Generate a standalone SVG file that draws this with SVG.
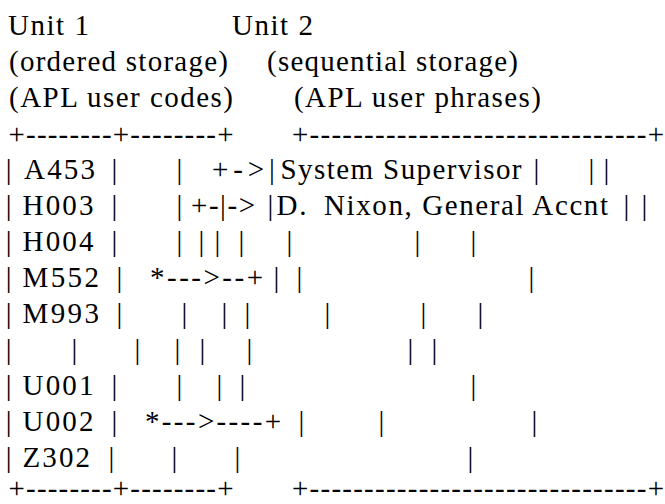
<svg xmlns="http://www.w3.org/2000/svg" width="665" height="504" viewBox="0 0 665 504">
<style>
text{font-family:'Liberation Serif','Times New Roman',serif;font-size:29px;fill:#000}
</style>
<rect width="665" height="504" fill="#fff"/>
<!-- column headings -->
<g id="headings">
<text x="8" y="35" textLength="81" lengthAdjust="spacing">Unit 1</text>
<text x="232" y="35" textLength="81" lengthAdjust="spacing">Unit 2</text>
<text x="9" y="71" textLength="219" lengthAdjust="spacing">(ordered storage)</text>
<text x="267" y="71" textLength="251" lengthAdjust="spacing">(sequential storage)</text>
<text x="9" y="107" textLength="224" lengthAdjust="spacing">(APL user codes)</text>
<text x="294" y="107" textLength="247" lengthAdjust="spacing">(APL user phrases)</text>
</g>
<!-- box borders: unit 1 (left) and unit 2 (right) -->
<g id="borders">
<text x="8.5" y="144" textLength="225" lengthAdjust="spacing">+--------+--------+</text>
<text x="292" y="144" textLength="372" lengthAdjust="spacing">+-------------------------------+</text>
<text x="8.5" y="497.5" textLength="225" lengthAdjust="spacing">+--------+--------+</text>
<text x="292" y="497.5" textLength="372" lengthAdjust="spacing">+-------------------------------+</text>
</g>
<!-- unit 1 codes and pointers into unit 2 -->
<g id="row-a453">
<text x="24" y="179" textLength="71" lengthAdjust="spacing">A453</text>
<text x="212" y="179" textLength="52" lengthAdjust="spacing">+-&gt;</text>
<text x="280.5" y="179" textLength="241" lengthAdjust="spacing">System Supervisor</text>
<text y="179"><tspan x="5.7">|</tspan> <tspan x="111.4">|</tspan> <tspan x="176.4">|</tspan> <tspan x="269">|</tspan> <tspan x="533.4">|</tspan> <tspan x="588.4">|</tspan> <tspan x="603.4">|</tspan></text>
</g>
<g id="row-h003">
<text x="22.5" y="215" textLength="71" lengthAdjust="spacing">H003</text>
<text x="191" y="215" textLength="64" lengthAdjust="spacing">+-|-&gt;</text>
<text x="276.5" y="215" textLength="30" lengthAdjust="spacing">D.</text>
<text x="324" y="215" textLength="284" lengthAdjust="spacing">Nixon, General Accnt</text>
<text y="215"><tspan x="5.7">|</tspan> <tspan x="111.4">|</tspan> <tspan x="176.4">|</tspan> <tspan x="267.6">|</tspan> <tspan x="623.4">|</tspan> <tspan x="641.4">|</tspan></text>
</g>
<g id="row-h004">
<text x="22.5" y="251" textLength="71" lengthAdjust="spacing">H004</text>
<text y="251"><tspan x="5.7">|</tspan> <tspan x="111.4">|</tspan> <tspan x="176.4">|</tspan> <tspan x="198.4">|</tspan> <tspan x="214.4">|</tspan> <tspan x="238.4">|</tspan> <tspan x="286.4">|</tspan> <tspan x="414.4">|</tspan> <tspan x="470.4">|</tspan></text>
</g>
<g id="row-m552">
<text x="22.5" y="287" textLength="76.4" lengthAdjust="spacing">M552</text>
<text x="150" y="287" textLength="113" lengthAdjust="spacing">*---&gt;--+</text>
<text y="287"><tspan x="5.7">|</tspan> <tspan x="116.4">|</tspan> <tspan x="273.4">|</tspan> <tspan x="296.4">|</tspan> <tspan x="528.4">|</tspan></text>
</g>
<g id="row-m993">
<text x="22.5" y="323" textLength="76.4" lengthAdjust="spacing">M993</text>
<text y="323"><tspan x="5.7">|</tspan> <tspan x="116.4">|</tspan> <tspan x="181.4">|</tspan> <tspan x="221.4">|</tspan> <tspan x="244.4">|</tspan> <tspan x="324.4">|</tspan> <tspan x="420.4">|</tspan> <tspan x="477.4">|</tspan></text>
</g>
<g id="row-empty">
<text y="359"><tspan x="5.7">|</tspan> <tspan x="71.4">|</tspan> <tspan x="134.4">|</tspan> <tspan x="174.4">|</tspan> <tspan x="199.4">|</tspan> <tspan x="246.4">|</tspan> <tspan x="407.4">|</tspan> <tspan x="431.4">|</tspan></text>
</g>
<g id="row-u001">
<text x="22.5" y="395" textLength="71" lengthAdjust="spacing">U001</text>
<text y="395"><tspan x="5.7">|</tspan> <tspan x="111.4">|</tspan> <tspan x="176.4">|</tspan> <tspan x="216.4">|</tspan> <tspan x="239.4">|</tspan> <tspan x="470.4">|</tspan></text>
</g>
<g id="row-u002">
<text x="22.5" y="431" textLength="71" lengthAdjust="spacing">U002</text>
<text x="145" y="431" textLength="136" lengthAdjust="spacing">*---&gt;----+</text>
<text y="431"><tspan x="5.7">|</tspan> <tspan x="111.4">|</tspan> <tspan x="298.4">|</tspan> <tspan x="378.4">|</tspan> <tspan x="531.4">|</tspan></text>
</g>
<g id="row-z302">
<text x="22.5" y="467" textLength="67.6" lengthAdjust="spacing">Z302</text>
<text y="467"><tspan x="5.7">|</tspan> <tspan x="108.4">|</tspan> <tspan x="171.4">|</tspan> <tspan x="234.4">|</tspan> <tspan x="467.4">|</tspan></text>
</g>
</svg>
